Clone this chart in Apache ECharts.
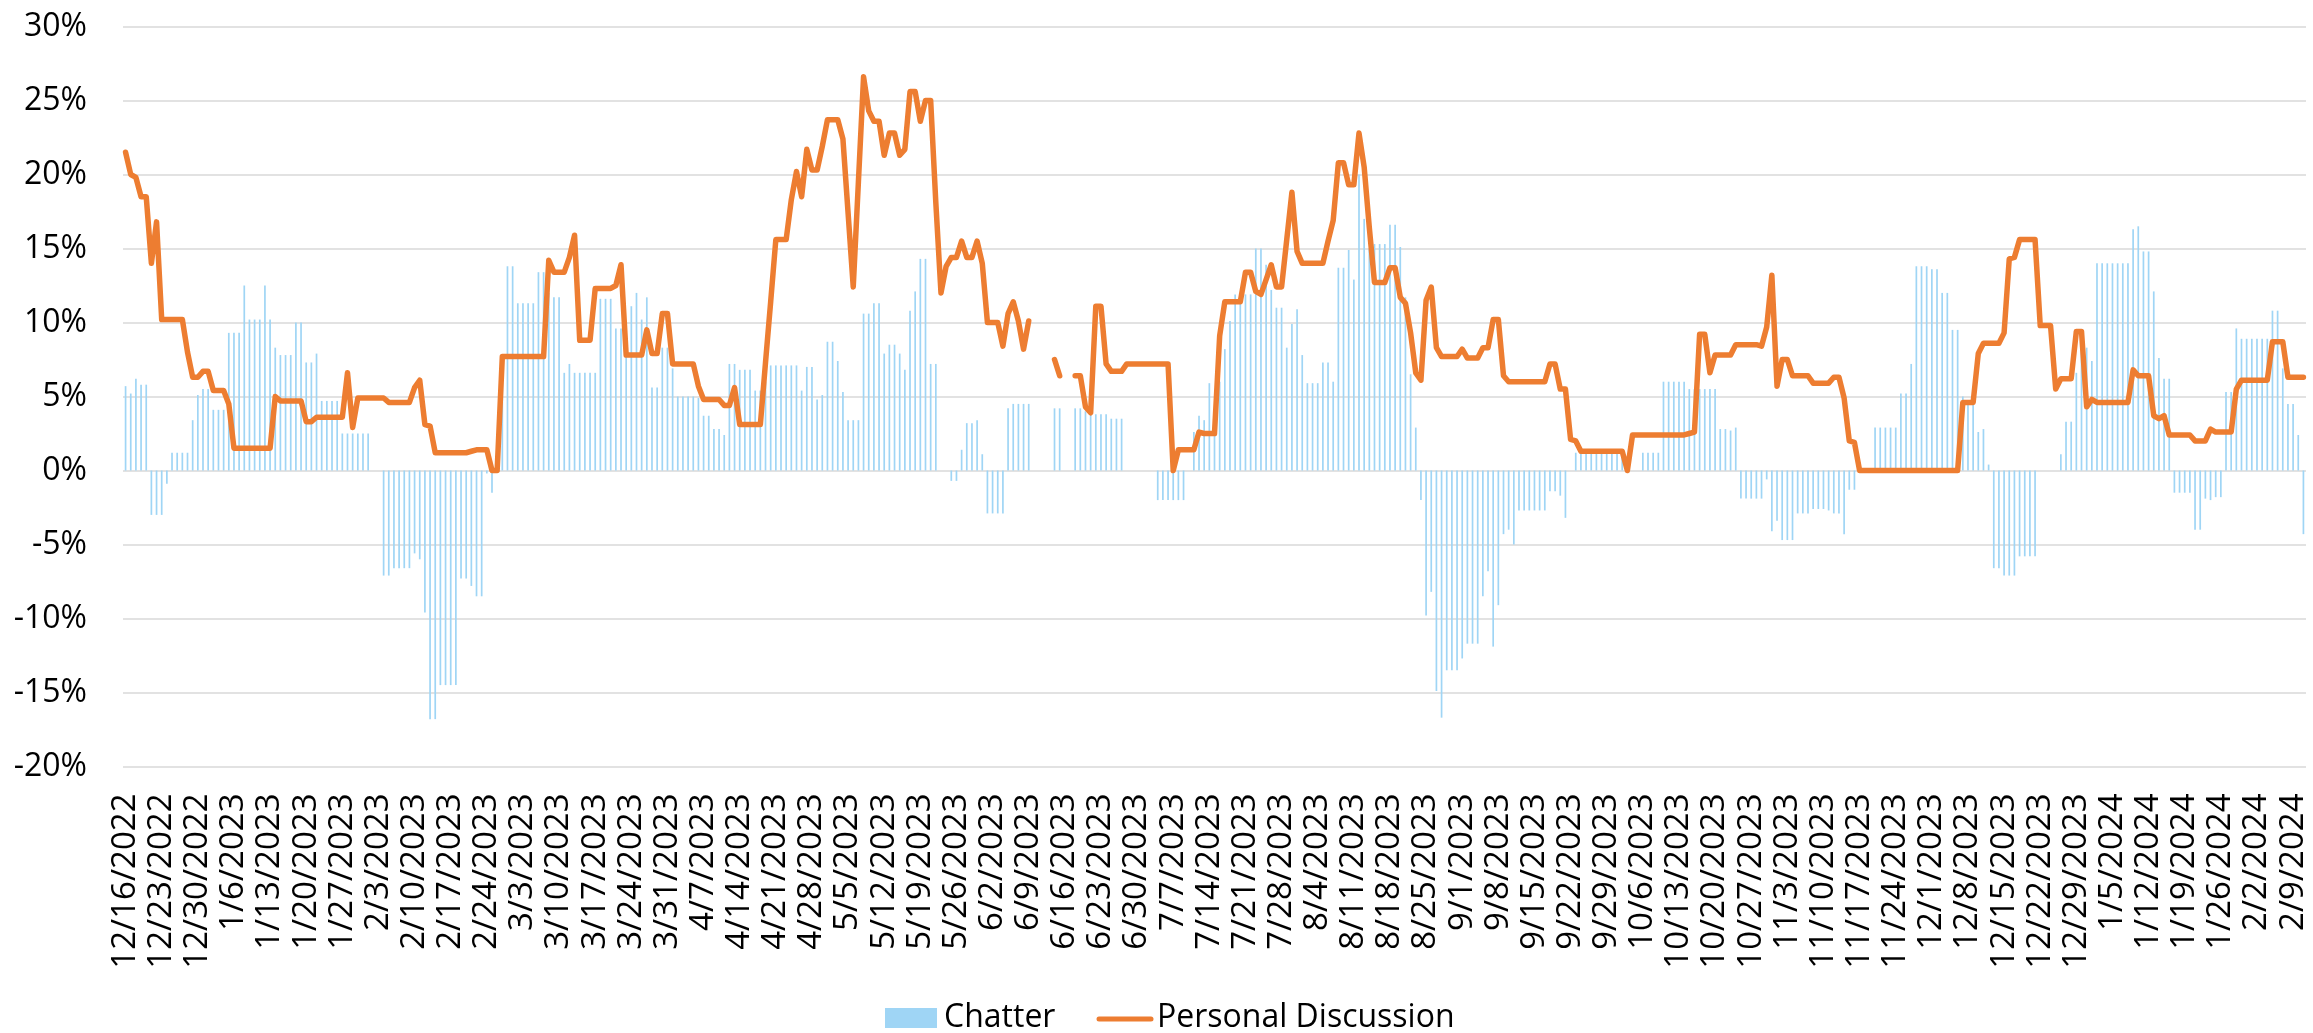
<!DOCTYPE html>
<html>
<head>
<meta charset="utf-8">
<script src="https://cdn.jsdelivr.net/npm/echarts@6/dist/echarts.min.js"></script>
<style>
html,body{margin:0;padding:0;background:#fff;}
#chart{width:2313px;height:1033px;}
</style>
</head>
<body>
<div id="chart"></div>
<script>
// ---- categories: daily dates from 12/16/2022 (423 days) ----
const startDate = [2022, 12, 16];
const dayCount = 423;
const categories = [];
for (let i = 0; i < dayCount; i++) {
  const d = new Date(startDate[0], startDate[1] - 1, startDate[2] + i);
  categories.push((d.getMonth() + 1) + '/' + d.getDate() + '/' + d.getFullYear());
}

// ---- y-axis ticks (percent) ----
const yTicks = { min: -20, max: 30, step: 5 };

// ---- Chatter (bars, %) ----
const chatter = [
  5.7, 5.2, 6.2, 5.8, 5.8, -3.0, -3.0, -3.0, -0.9, 1.2,
  1.2, 1.2, 1.2, 3.4, 5.1, 5.5, 5.5, 4.1, 4.1, 4.1,
  9.3, 9.3, 9.3, 12.5, 10.2, 10.2, 10.2, 12.5, 10.2, 8.3,
  7.8, 7.8, 7.8, 10.0, 10.0, 7.3, 7.3, 7.9, 4.7, 4.7,
  4.7, 4.7, 2.5, 2.5, 2.5, 2.5, 2.5, 2.5, null, null,
  -7.1, -7.1, -6.6, -6.6, -6.6, -6.6, -5.6, -6.0, -9.6, -16.8,
  -16.8, -14.5, -14.5, -14.5, -14.5, -7.3, -7.3, -7.8, -8.5, -8.5,
  -0.2, -1.5, null, 7.0, 13.8, 13.8, 11.3, 11.3, 11.3, 11.3,
  13.4, 13.4, 12.0, 11.7, 11.7, 6.6, 7.2, 6.6, 6.6, 6.6,
  6.6, 6.6, 11.6, 11.6, 11.6, 9.6, 9.6, 9.6, 11.1, 12.0,
  10.2, 11.7, 5.6, 5.6, 8.3, 8.3, 6.9, 5.0, 5.0, 5.0,
  5.0, 4.9, 3.7, 3.7, 2.8, 2.8, 2.4, 7.2, 7.2, 6.8,
  6.8, 6.8, 5.4, 5.4, 6.0, 7.1, 7.1, 7.1, 7.1, 7.1,
  7.1, 5.4, 7.0, 7.0, 4.8, 5.1, 8.7, 8.7, 7.4, 5.3,
  3.4, 3.4, 3.4, 10.6, 10.6, 11.3, 11.3, 7.9, 8.5, 8.5,
  7.9, 6.8, 10.8, 12.1, 14.3, 14.3, 7.2, 7.2, null, null,
  -0.7, -0.7, 1.4, 3.2, 3.2, 3.4, 1.1, -2.9, -2.9, -2.9,
  -2.9, 4.2, 4.5, 4.5, 4.5, 4.5, null, null, null, null,
  4.2, 4.2, null, null, 4.2, 4.2, 4.0, 4.0, 3.8, 3.8,
  3.8, 3.5, 3.5, 3.5, null, null, null, null, null, null,
  -2.0, -2.0, -2.0, -2.0, -2.0, -2.0, null, 2.6, 3.7, 3.4,
  5.9, 2.5, 6.0, 8.2, 10.1, 11.9, 11.9, 11.9, 11.9, 15.0,
  15.0, 13.9, 12.2, 11.0, 11.0, 8.3, 9.9, 10.9, 7.8, 5.9,
  5.9, 5.9, 7.3, 7.3, 6.0, 13.7, 13.7, 14.9, 12.9, 20.0,
  17.0, 15.0, 15.3, 15.3, 15.3, 16.6, 16.6, 15.1, 11.7, 6.5,
  2.9, -2.0, -9.8, -8.2, -14.9, -16.7, -13.5, -13.5, -13.5, -12.7,
  -11.7, -11.7, -11.7, -8.5, -6.8, -11.9, -9.1, -4.3, -4.0, -5.0,
  -2.7, -2.7, -2.7, -2.7, -2.7, -2.7, -1.4, -1.4, -1.7, -3.2,
  null, 1.2, 1.2, 1.2, 1.2, 1.2, 1.2, 1.2, 1.2, 1.2,
  1.2, null, null, null, 1.2, 1.2, 1.2, 1.2, 6.0, 6.0,
  6.0, 6.0, 6.0, 5.5, 5.5, 5.5, 5.5, 5.5, 5.5, 2.8,
  2.8, 2.7, 2.9, -1.9, -1.9, -1.9, -1.9, -1.9, -0.6, -4.1,
  -3.4, -4.7, -4.7, -4.7, -2.9, -2.9, -2.9, -2.6, -2.6, -2.6,
  -2.7, -2.9, -2.9, -4.3, -1.3, -1.3, null, null, null, 2.9,
  2.9, 2.9, 2.9, 2.9, 5.2, 5.2, 7.2, 13.8, 13.8, 13.8,
  13.6, 13.6, 12.0, 12.0, 9.5, 9.5, 5.0, 4.7, 4.7, 2.6,
  2.8, 0.4, -6.6, -6.6, -7.1, -7.1, -7.1, -5.8, -5.8, -5.8,
  -5.8, null, null, null, null, 1.1, 3.3, 3.3, 6.6, 8.0,
  8.3, 7.4, 14.0, 14.0, 14.0, 14.0, 14.0, 14.0, 14.0, 16.3,
  16.5, 14.8, 14.8, 12.1, 7.6, 6.2, 6.2, -1.5, -1.5, -1.5,
  -1.5, -4.0, -4.0, -1.9, -2.0, -1.8, -1.8, 5.3, 5.3, 9.6,
  8.9, 8.9, 8.9, 8.9, 8.9, 8.9, 10.8, 10.8, 6.9, 4.5,
  4.5, 2.4, -4.3
];

// ---- Personal Discussion (line, %) ----
const personal = [
  21.5, 20.0, 19.8, 18.5, 18.5, 14.0, 16.8, 10.2, 10.2, 10.2,
  10.2, 10.2, 8.0, 6.3, 6.3, 6.7, 6.7, 5.4, 5.4, 5.4,
  4.5, 1.5, 1.5, 1.5, 1.5, 1.5, 1.5, 1.5, 1.5, 5.0,
  4.7, 4.7, 4.7, 4.7, 4.7, 3.3, 3.3, 3.6, 3.6, 3.6,
  3.6, 3.6, 3.6, 6.6, 2.9, 4.9, 4.9, 4.9, 4.9, 4.9,
  4.9, 4.6, 4.6, 4.6, 4.6, 4.6, 5.6, 6.1, 3.1, 3.0,
  1.2, 1.2, 1.2, 1.2, 1.2, 1.2, 1.2, 1.3, 1.4, 1.4,
  1.4, 0, 0, 7.7, 7.7, 7.7, 7.7, 7.7, 7.7, 7.7,
  7.7, 7.7, 14.2, 13.4, 13.4, 13.4, 14.4, 15.9, 8.8, 8.8,
  8.8, 12.3, 12.3, 12.3, 12.3, 12.5, 13.9, 7.8, 7.8, 7.8,
  7.8, 9.5, 7.9, 7.9, 10.6, 10.6, 7.2, 7.2, 7.2, 7.2,
  7.2, 5.7, 4.8, 4.8, 4.8, 4.8, 4.4, 4.4, 5.6, 3.1,
  3.1, 3.1, 3.1, 3.1, 7.3, 11.4, 15.6, 15.6, 15.6, 18.3,
  20.2, 18.5, 21.7, 20.3, 20.3, 21.9, 23.7, 23.7, 23.7, 22.4,
  17.4, 12.4, 19.5, 26.6, 24.3, 23.6, 23.6, 21.3, 22.8, 22.8,
  21.3, 21.7, 25.6, 25.6, 23.6, 25.0, 25.0, 18.1, 12.0, 13.8,
  14.4, 14.4, 15.5, 14.4, 14.4, 15.5, 14.0, 10.0, 10.0, 10.0,
  8.4, 10.6, 11.4, 10.1, 8.2, 10.1, null, null, null, null,
  7.5, 6.4, null, null, 6.4, 6.4, 4.3, 3.9, 11.1, 11.1,
  7.2, 6.7, 6.7, 6.7, 7.2, 7.2, 7.2, 7.2, 7.2, 7.2,
  7.2, 7.2, 7.2, 0, 1.4, 1.4, 1.4, 1.4, 2.6, 2.5,
  2.5, 2.5, 9.1, 11.4, 11.4, 11.4, 11.4, 13.4, 13.4, 12.1,
  11.9, 12.9, 13.9, 12.4, 12.4, 15.6, 18.8, 14.8, 14.0, 14.0,
  14.0, 14.0, 14.0, 15.5, 16.9, 20.8, 20.8, 19.3, 19.3, 22.8,
  20.5, 16.4, 12.7, 12.7, 12.7, 13.7, 13.7, 11.7, 11.3, 9.3,
  6.6, 6.1, 11.5, 12.4, 8.3, 7.7, 7.7, 7.7, 7.7, 8.2,
  7.6, 7.6, 7.6, 8.3, 8.3, 10.2, 10.2, 6.4, 6.0, 6.0,
  6.0, 6.0, 6.0, 6.0, 6.0, 6.0, 7.2, 7.2, 5.5, 5.5,
  2.1, 2.0, 1.3, 1.3, 1.3, 1.3, 1.3, 1.3, 1.3, 1.3,
  1.3, 0, 2.4, 2.4, 2.4, 2.4, 2.4, 2.4, 2.4, 2.4,
  2.4, 2.4, 2.4, 2.5, 2.6, 9.2, 9.2, 6.6, 7.8, 7.8,
  7.8, 7.8, 8.5, 8.5, 8.5, 8.5, 8.5, 8.4, 9.7, 13.2,
  5.7, 7.5, 7.5, 6.4, 6.4, 6.4, 6.4, 5.9, 5.9, 5.9,
  5.9, 6.3, 6.3, 4.9, 2.0, 1.9, 0, 0, 0, 0,
  0, 0, 0, 0, 0, 0, 0, 0, 0, 0,
  0, 0, 0, 0, 0, 0, 4.6, 4.6, 4.6, 7.9,
  8.6, 8.6, 8.6, 8.6, 9.3, 14.3, 14.4, 15.6, 15.6, 15.6,
  15.6, 9.8, 9.8, 9.8, 5.5, 6.2, 6.2, 6.2, 9.4, 9.4,
  4.3, 4.8, 4.6, 4.6, 4.6, 4.6, 4.6, 4.6, 4.6, 6.8,
  6.4, 6.4, 6.4, 3.7, 3.5, 3.7, 2.4, 2.4, 2.4, 2.4,
  2.4, 2.0, 2.0, 2.0, 2.8, 2.6, 2.6, 2.6, 2.6, 5.5,
  6.1, 6.1, 6.1, 6.1, 6.1, 6.1, 8.7, 8.7, 8.7, 6.3,
  6.3, 6.3, 6.3
];

const seriesNames = ['Chatter', 'Personal Discussion'];

const BAR_COLOR = '#9fd5f5';
const LINE_COLOR = '#ed7d31';
const FONT = 'Open Sans';

const chart = echarts.init(document.getElementById('chart'), null, { renderer: 'canvas' });
chart.setOption({
  animation: false,
  backgroundColor: '#ffffff',
  textStyle: { fontFamily: FONT },
  grid: { left: 123, right: 7, top: 26.5, bottom: 266.5, containLabel: false },
  legend: { show: false },
  graphic: [
    { type: 'rect', shape: { x: 885, y: 1008, width: 52, height: 20 }, style: { fill: BAR_COLOR } },
    { type: 'text', x: 944, y: 1018, style: { text: seriesNames[0], fontFamily: FONT, fontSize: 32, fill: '#000', verticalAlign: 'middle', align: 'left' } },
    { type: 'line', shape: { x1: 1099, y1: 1019, x2: 1151, y2: 1019 }, style: { stroke: LINE_COLOR, lineWidth: 5, lineCap: 'round' } },
    { type: 'text', x: 1157, y: 1018, style: { text: seriesNames[1], fontFamily: FONT, fontSize: 32, fill: '#000', verticalAlign: 'middle', align: 'left' } }
  ],
  xAxis: {
    type: 'category',
    data: categories,
    boundaryGap: true,
    axisLine: { show: false },
    axisTick: { show: false },
    splitLine: { show: false },
    axisLabel: {
      interval: 6,
      rotate: 90,
      margin: 27,
      fontFamily: FONT,
      fontSize: 33,
      color: '#000',
      hideOverlap: false
    }
  },
  yAxis: {
    type: 'value',
    min: yTicks.min,
    max: yTicks.max,
    interval: yTicks.step,
    axisLine: { show: false },
    axisTick: { show: false },
    splitLine: { lineStyle: { color: '#d9d9d9', width: 1.5 } },
    axisLabel: {
      formatter: '{value}%',
      margin: 36,
      fontFamily: FONT,
      fontSize: 32,
      color: '#000'
    }
  },
  series: [
    {
      name: seriesNames[0],
      type: 'bar',
      data: chatter,
      barWidth: 1.7,
      itemStyle: { color: BAR_COLOR },
      z: 2
    },
    {
      name: seriesNames[1],
      type: 'line',
      data: personal,
      symbol: 'none',
      showSymbol: false,
      connectNulls: false,
      lineStyle: { color: LINE_COLOR, width: 5.5, cap: 'round', join: 'round' },
      itemStyle: { color: LINE_COLOR },
      z: 3
    }
  ]
});
</script>
</body>
</html>
